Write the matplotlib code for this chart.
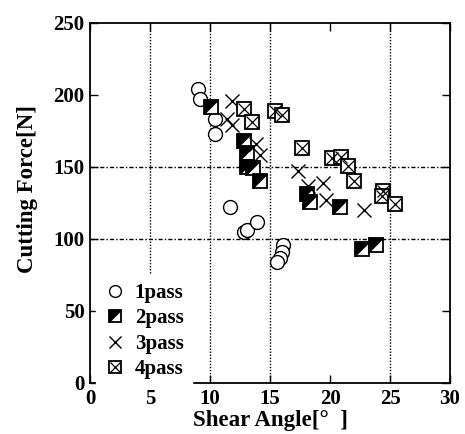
import matplotlib
matplotlib.use("Agg")
import matplotlib.pyplot as plt
from matplotlib.legend_handler import HandlerTuple

# data (shear angle [deg], cutting force [N])
x_1pass = [9.0, 9.2, 10.4, 10.4, 11.7, 12.8, 13.1, 13.9, 16.1, 16.0, 15.8, 15.6]
y_1pass = [204, 197, 183, 173, 122, 105, 106, 112, 96, 91, 87, 84]

x_2pass = [10.1, 12.8, 13.1, 13.1, 13.6, 14.2, 18.1, 18.3, 20.8, 22.7, 23.8]
y_2pass = [192, 168, 160, 150, 149, 140, 131, 126, 122, 93, 96]

x_3pass = [11.8, 11.4, 11.8, 13.8, 14.2, 17.3, 18.2, 19.4, 19.7, 22.8]
y_3pass = [196, 183, 179, 166, 158, 147, 137, 139, 127, 120]

x_4pass = [12.8, 13.5, 15.4, 16.0, 17.7, 20.2, 20.9, 21.5, 22.0, 24.4, 24.3, 25.4]
y_4pass = [190, 181, 189, 186, 163, 156, 157, 151, 140, 133, 130, 124]

font = {"family": "Liberation Serif", "weight": "bold", "size": 16.5}
plt.rcParams["font.family"] = "Liberation Serif"
plt.rcParams["font.weight"] = "bold"

fig = plt.figure(figsize=(4.65, 4.34), dpi=100)
ax = fig.add_axes([90 / 465, 1 - 383 / 434, 360 / 465, 360 / 434])

ms = 10.5
upper_left_tri = [(-1, -1), (-1, 1), (1, 1), (-1, -1)]

h1, = ax.plot(x_1pass, y_1pass, "o", ms=10, mfc="white", mec="black", mew=1.0,
              ls="none", zorder=3)
h2a, = ax.plot(x_2pass, y_2pass, "s", ms=ms, mfc="white", mec="black", mew=1.3,
               ls="none", zorder=3)
h2b, = ax.plot(x_2pass, y_2pass, marker=upper_left_tri, ms=ms, mfc="black",
               mec="black", mew=0.5, ls="none", zorder=3)
h3, = ax.plot(x_3pass, y_3pass, "x", ms=ms, mec="black", mew=1.0, ls="none",
              zorder=3)
h4a, = ax.plot(x_4pass, y_4pass, "s", ms=ms, mfc="white", mec="black", mew=1.3,
               ls="none", zorder=3)
h4b, = ax.plot(x_4pass, y_4pass, "x", ms=ms * 0.8, mec="black", mew=0.9,
               ls="none", zorder=3)

# grid lines (only those visible in the original scan)
for gx in [5, 10, 15, 25]:
    ax.axvline(gx, color="black", lw=1.0, ls=(0, (1, 1.2)), zorder=1)
for gy in [100, 150]:
    ax.axhline(gy, color="black", lw=1.0, ls=(0, (3, 1.5, 1, 1.5)), zorder=1)

ax.set_xlim(0, 30)
ax.set_ylim(0, 250)
ax.set_xticks(range(0, 31, 5))
ax.set_yticks(range(0, 251, 50))
ax.tick_params(direction="in", top=True, right=True, length=6, width=1.0,
               labelsize=15, pad=4)
for lab in ax.get_xticklabels() + ax.get_yticklabels():
    lab.set_fontweight("bold")
for sp in ax.spines.values():
    sp.set_linewidth(1.3)

ax.set_xlabel("Shear Angle[°  ]", fontdict=font, labelpad=1)
ax.set_ylabel("Cutting Force[N]", fontdict=font)
ax.yaxis.set_label_coords(-0.145, 0.54)

leg = ax.legend([h1, (h2a, h2b), h3, (h4a, h4b)],
                ["1pass", "2pass", "3pass", "4pass"],
                handler_map={tuple: HandlerTuple(ndivide=1, pad=0)},
                loc="lower left", bbox_to_anchor=(0.0, -0.03),
                frameon=True, framealpha=1, edgecolor="white",
                prop={"family": "Liberation Serif", "weight": "bold", "size": 15},
                handlelength=1.0, handletextpad=0.45, labelspacing=0.26,
                borderaxespad=0.3, markerscale=0.85)
leg.set_zorder(5)

fig.savefig("out.png", dpi=100)
